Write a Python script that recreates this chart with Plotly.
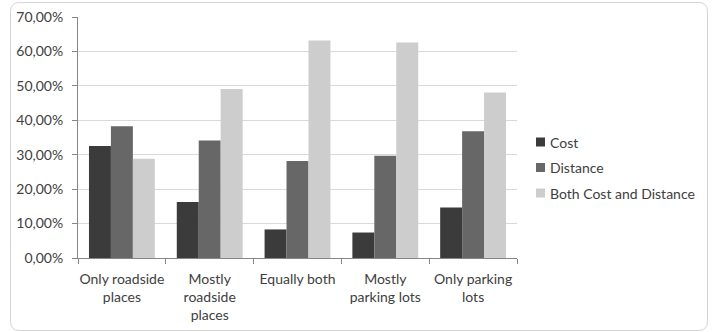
import plotly.graph_objects as go

categories = ["Only roadside<br>places", "Mostly<br>roadside<br>places", "Equally both",
              "Mostly<br>parking lots", "Only parking<br>lots"]
series_names = ["Cost", "Distance", "Both Cost and Distance"]
cost = [0.325, 0.163, 0.083, 0.074, 0.147]
distance = [0.383, 0.341, 0.282, 0.297, 0.368]
both = [0.288, 0.491, 0.632, 0.626, 0.481]
colors = ["#3b3b3b", "#676767", "#cdcdcd"]

W, H = 719, 332
L, R, T, B = 78, 517, 17, 258  # plot area in pixels
FONT = "Lato, Open Sans, sans-serif"
TEXT = "#404040"

fig = go.Figure()
for name, vals, col in zip(series_names, [cost, distance, both], colors):
    fig.add_trace(go.Bar(x=categories, y=vals, name=name, marker_color=col,
                         marker_line_width=0, showlegend=False))

def px(x):
    return (x - L) / (R - L)

def py(y):
    return (B - y) / (B - T)

# rounded chart border drawn in paper coordinates
x0, x1, y0, y1, r = 10.5, 707.5, 2.5, 330.5, 9
path = (f"M {px(x0 + r)},{py(y0)} L {px(x1 - r)},{py(y0)} "
        f"Q {px(x1)},{py(y0)} {px(x1)},{py(y0 + r)} "
        f"L {px(x1)},{py(y1 - r)} Q {px(x1)},{py(y1)} {px(x1 - r)},{py(y1)} "
        f"L {px(x0 + r)},{py(y1)} Q {px(x0)},{py(y1)} {px(x0)},{py(y1 - r)} "
        f"L {px(x0)},{py(y0 + r)} Q {px(x0)},{py(y0)} {px(x0 + r)},{py(y0)} Z")
shapes = [dict(type="path", path=path, xref="paper", yref="paper",
               line=dict(color="#d4d4d4", width=1), layer="below")]

# legend: small colour squares with labels to the right
annotations = []
for i, (name, col) in enumerate(zip(series_names, colors)):
    cy = 142 + i * 25.5
    shapes.append(dict(type="rect", xref="paper", yref="paper",
                       x0=px(536), x1=px(545), y0=py(cy + 4.5), y1=py(cy - 4.5),
                       fillcolor=col, line=dict(width=0)))
    annotations.append(dict(text=name, xref="paper", yref="paper",
                            x=px(548), y=py(cy), xanchor="left", yanchor="middle",
                            showarrow=False, font=dict(family=FONT, size=14, color=TEXT)))

fig.update_layout(
    width=W, height=H,
    margin=dict(l=L, r=W - R, t=T, b=H - B, pad=0),
    paper_bgcolor="white", plot_bgcolor="white",
    barmode="group", bargap=0.25, bargroupgap=0,
    separators=",.",
    font=dict(family=FONT, size=14, color=TEXT),
    shapes=shapes, annotations=annotations,
    xaxis=dict(showline=True, linecolor="#868686", linewidth=1,
               ticks="outside", tickson="boundaries", ticklen=5, tickcolor="#868686",
               showgrid=False, ticklabelstandoff=8, tickangle=0, automargin=False),
    yaxis=dict(range=[0, 0.7], dtick=0.1, tickformat=".2%",
               showline=True, linecolor="#868686", linewidth=1,
               ticks="outside", ticklen=5, tickcolor="#868686",
               gridcolor="#d9d9d9", gridwidth=1, zeroline=False,
               ticklabelstandoff=6, automargin=False),
)

fig.write_html("out.html")
